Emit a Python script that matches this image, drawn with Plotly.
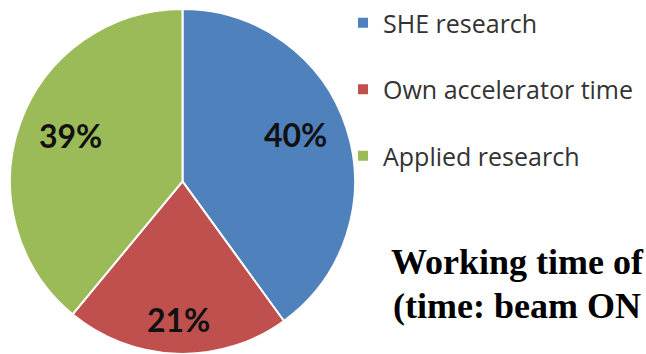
import math
import plotly.graph_objects as go

categories = ["SHE research", "Own accelerator time", "Applied research"]
shares = [40, 21, 39]
colors = ["#4F81BD", "#C0504D", "#9BBB59"]
title_lines = ["Working time of", "(time: beam ON"]

W, H = 646, 354
DOM_X = [10 / W, 355 / W]
DOM_Y = [0.0, 0.975]

# label placement style (fraction of radius, vertical shift in px)
label_r = [0.69, 0.80, 0.69]
label_shift = [10, 0, 6]

fig = go.Figure()
fig.add_trace(go.Pie(
    labels=categories,
    values=shares,
    sort=False,
    direction="clockwise",
    rotation=0,
    marker=dict(colors=colors, line=dict(color="white", width=2)),
    textinfo="none",
    showlegend=False,
    hoverinfo="label+percent",
    domain=dict(x=DOM_X, y=DOM_Y),
))

# percentage labels placed along each slice bisector (derived from the data)
cx = (DOM_X[0] + DOM_X[1]) / 2 * W
cy_from_bottom = (DOM_Y[0] + DOM_Y[1]) / 2 * H
R = min((DOM_X[1] - DOM_X[0]) * W, (DOM_Y[1] - DOM_Y[0]) * H) / 2
total = sum(shares)
cum = 0
for v, rf, ys in zip(shares, label_r, label_shift):
    mid = (cum + v / 2) / total * 2 * math.pi
    cum += v
    px = cx + rf * R * math.sin(mid)
    py = cy_from_bottom + rf * R * math.cos(mid)
    fig.add_annotation(text=f"{round(v / total * 100)}%", x=px / W, y=py / H,
                       xref="paper", yref="paper", xanchor="center", yanchor="middle",
                       yshift=ys, showarrow=False,
                       font=dict(family="Lato", size=32, color="#111111", weight="bold"))

# legend entries (square swatches)
for i, (name, col) in enumerate(zip(categories, colors)):
    fig.add_trace(go.Scatter(
        x=[None], y=[None], mode="markers", name=name,
        marker=dict(symbol="square", size=10, color=col),
        legendgroup=f"g{i}", showlegend=True,
    ))

fig.add_annotation(text=title_lines[0], x=389 / W, y=1 - 284 / H, xref="paper", yref="paper",
                   xanchor="left", yanchor="bottom", showarrow=False,
                   font=dict(family="Liberation Serif", size=36, color="black", weight="bold"))
fig.add_annotation(text=title_lines[1], x=391 / W, y=1 - 328 / H, xref="paper", yref="paper",
                   xanchor="left", yanchor="bottom", showarrow=False,
                   font=dict(family="Liberation Serif", size=36, color="black", weight="bold"))

fig.update_layout(
    width=W, height=H,
    margin=dict(l=0, r=0, t=0, b=0),
    paper_bgcolor="white", plot_bgcolor="white",
    xaxis=dict(visible=False), yaxis=dict(visible=False),
    legend=dict(
        x=343 / W, xanchor="left", y=1.0, yanchor="top",
        font=dict(family="Open Sans", size=25, color="#333333"),
        tracegroupgap=31, bgcolor="rgba(0,0,0,0)",
        itemclick=False, itemdoubleclick=False,
    ),
)

fig.write_html("out.html")
